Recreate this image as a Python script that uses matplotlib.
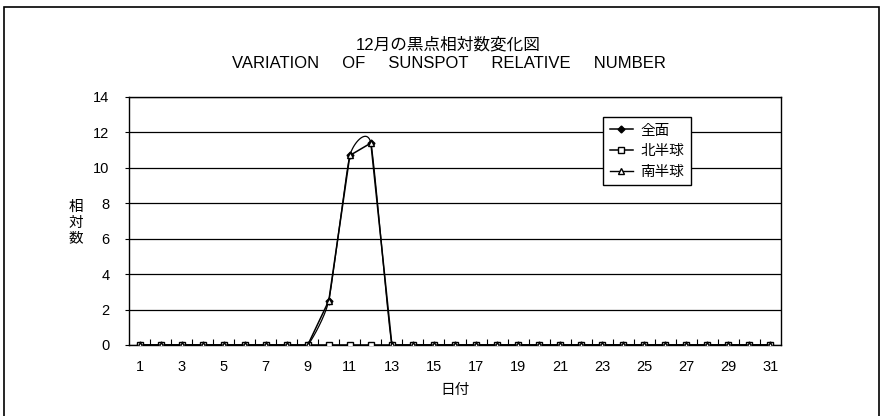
import numpy as np
import matplotlib
matplotlib.use('Agg')
import matplotlib.pyplot as plt
from matplotlib.patches import Rectangle

plt.rcParams['font.family'] = ['Liberation Sans', 'Noto Sans CJK JP', 'DejaVu Sans']

# data
days = list(range(1, 32))
total = [0, 0, 0, 0, 0, 0, 0, 0, 0, 2.5, 10.7, 11.4, 0, 0, 0, 0,
         0, 0, 0, 0, 0, 0, 0, 0, 0, 0, 0, 0, 0, 0, 0]
north = [0] * 31
south = [0, 0, 0, 0, 0, 0, 0, 0, 0, 2.5, 10.7, 11.4, 0, 0, 0, 0,
         0, 0, 0, 0, 0, 0, 0, 0, 0, 0, 0, 0, 0, 0, 0]
series_names = ['全面', '北半球', '南半球']
title_jp = '12月の黒点相対数変化図'
title_en = 'VARIATION     OF     SUNSPOT     RELATIVE     NUMBER'


def smooth(xs, ys, n=20, k=0.5):
    # spline like the spreadsheet "smoothed line", k = tension
    xs = np.asarray(xs, float)
    ys = np.asarray(ys, float)
    px = np.concatenate([[xs[0]], xs, [xs[-1]]])
    py = np.concatenate([[ys[0]], ys, [ys[-1]]])
    out_x, out_y = [], []
    t = np.linspace(0, 1, n)
    h00 = 2 * t**3 - 3 * t**2 + 1
    h10 = t**3 - 2 * t**2 + t
    h01 = -2 * t**3 + 3 * t**2
    h11 = t**3 - t**2
    for i in range(1, len(px) - 2):
        mx1 = k * (px[i + 1] - px[i - 1]) / 2
        mx2 = k * (px[i + 2] - px[i]) / 2
        my1 = k * (py[i + 1] - py[i - 1]) / 2
        my2 = k * (py[i + 2] - py[i]) / 2
        out_x.extend(h00 * px[i] + h10 * mx1 + h01 * px[i + 1] + h11 * mx2)
        out_y.extend(h00 * py[i] + h10 * my1 + h01 * py[i + 1] + h11 * my2)
    return out_x, out_y


fig = plt.figure(figsize=(8.81, 4.16), dpi=100)
ax = fig.add_axes([129 / 881, 1 - 345 / 416, 652 / 881, 248 / 416])

# outer frame
fig.patches.append(Rectangle((4 / 881, -0.05), 875 / 881, 1.05 - 7 / 416,
                             transform=fig.transFigure, fill=False,
                             edgecolor='black', linewidth=1.2))

ax.plot(days, total, color='black', linewidth=1.1, marker='D', markersize=3.5,
        markerfacecolor='black', markeredgecolor='black', label=series_names[0], zorder=3)
ax.plot(days, north, color='black', linewidth=1.1, marker='s', markersize=4.5,
        markerfacecolor='white', markeredgecolor='black', label=series_names[1], zorder=4)
sx, sy = smooth(days, south)
ax.plot(sx, sy, color='black', linewidth=0.9, zorder=5)
ax.plot(days, south, linestyle='none', marker='^', markersize=5,
        markerfacecolor='white', markeredgecolor='black', zorder=6)
ax.plot([], [], color='black', linewidth=1.0, marker='^', markersize=5,
        markerfacecolor='white', markeredgecolor='black', label=series_names[2])

ax.set_xlim(0.5, 31.5)
ax.set_ylim(0, 14)
ax.set_yticks(range(0, 15, 2))
ax.yaxis.grid(True, color='black', linewidth=0.9)
ax.set_axisbelow(True)
ax.set_xticks(days[::2])
ax.set_xticks(np.arange(1.5, 31, 1), minor=True)
ax.tick_params(axis='x', which='major', length=0, pad=11, labelsize=10.5)
ax.tick_params(axis='x', which='minor', direction='in', length=4, width=0.8)
ax.tick_params(axis='y', direction='out', length=3, width=0.8, pad=11, labelsize=10.5)
for s in ax.spines.values():
    s.set_linewidth(1.0)
    s.set_color('black')

ax.set_xlabel('日付', fontsize=10.5, labelpad=6)
fig.text(76 / 881, 1 - 223 / 416, '相\n対\n数', fontsize=10.5, ha='center', va='center',
         linespacing=1.15)

fig.text(448 / 881, 1 - 45 / 416, title_jp, fontsize=12, ha='center', va='center')
fig.text(449 / 881, 1 - 63 / 416, title_en, fontsize=12, ha='center', va='center')

leg = ax.legend(loc='upper left', bbox_to_anchor=(603 / 881, 1 - 117 / 416),
                bbox_transform=fig.transFigure, fontsize=10.5, frameon=True,
                fancybox=False, handlelength=1.6, handletextpad=0.5,
                borderpad=0.45, labelspacing=0.45, borderaxespad=0)
leg.get_frame().set_edgecolor('black')
leg.get_frame().set_linewidth(1.0)
leg.get_frame().set_alpha(1)

fig.savefig('out.png', dpi=100)
